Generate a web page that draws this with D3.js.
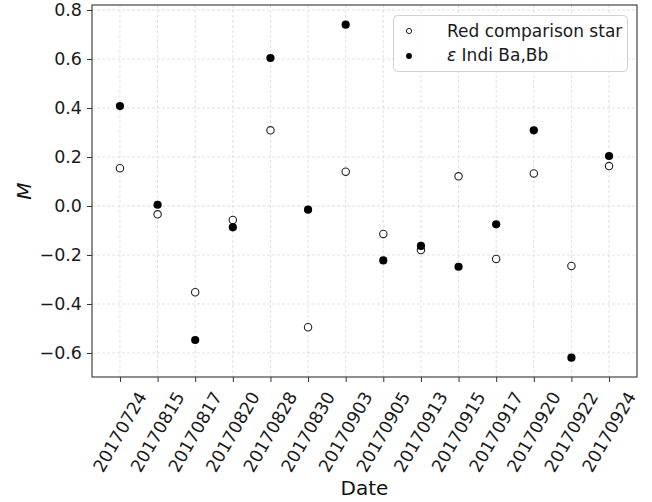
<!DOCTYPE html>
<html>
<head>
<meta charset="utf-8">
<script src="https://cdn.jsdelivr.net/npm/d3@7"></script>
<style>
  html, body { margin: 0; padding: 0; background: #fff; }
  svg { display: block; font-family: "DejaVu Sans", sans-serif; }
</style>
</head>
<body>
<svg id="chart" width="652" height="502"></svg>
<script>
const dates = ["20170724","20170815","20170817","20170820","20170828","20170830","20170903",
               "20170905","20170913","20170915","20170917","20170920","20170922","20170924"];
const comparisonStar = [0.154, -0.034, -0.352, -0.057, 0.309, -0.495, 0.14,
                        -0.114, -0.18, 0.121, -0.216, 0.133, -0.245, 0.163];
const epsIndi = [0.408, 0.005, -0.547, -0.087, 0.604, -0.015, 0.74,
                 -0.222, -0.163, -0.248, -0.075, 0.309, -0.619, 0.204];
const yTicks = [-0.6, -0.4, -0.2, 0.0, 0.2, 0.4, 0.6, 0.8];
const legendLabels = ["Red comparison star", "Indi Ba,Bb"];

const svg = d3.select("#chart");
const L = 92, R = 637, T = 5, B = 377;

const x = d3.scalePoint().domain(dates).range([L, R]).padding(0.743);
const y = d3.scaleLinear().domain([-0.698, 0.8204]).range([B, T]);

// grid
const grid = svg.append("g");
grid.selectAll("line.gx").data(dates).join("line")
  .attr("x1", d => x(d)).attr("x2", d => x(d)).attr("y1", T).attr("y2", B)
  .attr("stroke", "#d9d9d9").attr("stroke-width", 0.8).attr("stroke-dasharray", "3,2");
grid.selectAll("line.gy").data(yTicks).join("line")
  .attr("x1", L).attr("x2", R).attr("y1", d => y(d)).attr("y2", d => y(d))
  .attr("stroke", "#d9d9d9").attr("stroke-width", 0.8).attr("stroke-dasharray", "3,2");

// axes
const yAxis = svg.append("g").attr("transform", `translate(${L},0)`)
  .call(d3.axisLeft(y).tickValues(yTicks).tickSize(5).tickPadding(5)
    .tickFormat(d => d3.format(".1f")(d).replace("-", "\u2212")));
yAxis.select(".domain").remove();
yAxis.selectAll("line").attr("stroke", "#333").attr("stroke-width", 1);
yAxis.selectAll("text").attr("font-size", 17.5).attr("fill", "#1a1a1a")
  .attr("font-family", "DejaVu Sans");

const xAxis = svg.append("g").attr("transform", `translate(0,${B})`)
  .call(d3.axisBottom(x).tickSize(5).tickFormat(""));
xAxis.select(".domain").remove();
xAxis.selectAll("line").attr("stroke", "#333").attr("stroke-width", 1);

// rotated x tick labels (bbox centred on tick, like matplotlib ha=center)
svg.append("g").selectAll("text").data(dates).join("text")
  .attr("transform", d => `translate(${x(d)},${432}) rotate(-60)`)
  .attr("text-anchor", "middle").attr("dominant-baseline", "central")
  .attr("font-size", 17.5).attr("fill", "#1a1a1a")
  .text(d => d);

// frame
svg.append("rect").attr("x", L).attr("y", T).attr("width", R - L).attr("height", B - T)
  .attr("fill", "none").attr("stroke", "#333").attr("stroke-width", 1.1);

// points
svg.append("g").selectAll("circle").data(dates).join("circle")
  .attr("cx", d => x(d)).attr("cy", (d, i) => y(comparisonStar[i])).attr("r", 3.7)
  .attr("fill", "#fff").attr("stroke", "#222").attr("stroke-width", 1.1);
svg.append("g").selectAll("circle").data(dates).join("circle")
  .attr("cx", d => x(d)).attr("cy", (d, i) => y(epsIndi[i])).attr("r", 4.1)
  .attr("fill", "#000");

// axis labels
svg.append("text").attr("x", (L + R) / 2).attr("y", 495)
  .attr("text-anchor", "middle").attr("font-size", 20).attr("fill", "#111").text("Date");
svg.append("text").attr("transform", `translate(31,${(T + B) / 2}) rotate(-90)`)
  .attr("text-anchor", "middle").attr("font-size", 20).attr("font-style", "italic")
  .attr("fill", "#111").text("M");

// legend
const lg = svg.append("g");
lg.append("rect").attr("x", 393.5).attr("y", 15.5).attr("width", 234).attr("height", 56)
  .attr("rx", 4).attr("fill", "#fff").attr("fill-opacity", 0.85)
  .attr("stroke", "#d0d0d0").attr("stroke-width", 1);
lg.append("circle").attr("cx", 409).attr("cy", 31).attr("r", 2.6)
  .attr("fill", "#fff").attr("stroke", "#222").attr("stroke-width", 1);
lg.append("circle").attr("cx", 409).attr("cy", 56).attr("r", 2.9).attr("fill", "#000");
lg.append("text").attr("x", 447).attr("y", 31).attr("dominant-baseline", "central")
  .attr("font-size", 17).attr("fill", "#1a1a1a").text(legendLabels[0]);
const t2 = lg.append("text").attr("x", 447).attr("y", 55).attr("dominant-baseline", "central")
  .attr("font-size", 17).attr("fill", "#1a1a1a");
t2.append("tspan").attr("font-style", "italic").text("\u03b5");
t2.append("tspan").text(" " + legendLabels[1]);
</script>
</body>
</html>
